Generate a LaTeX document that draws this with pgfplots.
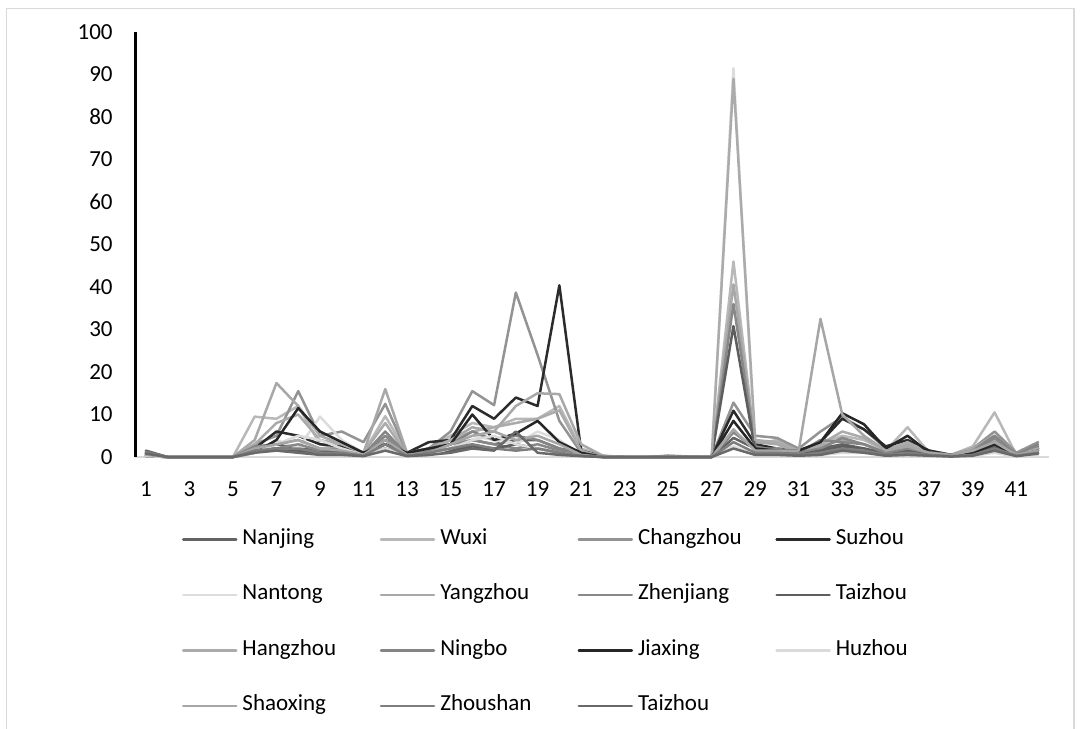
\documentclass[border=0pt]{standalone}
\usepackage{fontspec}
\setmainfont{Carlito}
\usepackage{pgfplots}
\usepackage{pgfplotstable}
\pgfplotsset{compat=1.18}

% Monthly index values for fifteen cities (columns), periods 1..42 (rows)
\pgfplotstableread{
x   NJ  WX   CZ   SZ   NT   YZ   ZJ  TZ   HZ  NB  JX   HU  SX   ZS  TZb
1   1.5 0.5  1    0.3  0.2  0.3  0.8 0.5  0.3 1   0.2  0.2 0.5  1.2 0.8
2   0   0    0    0    0    0    0   0    0   0   0    0   0    0   0
3   0   0    0    0    0    0    0   0    0   0   0    0   0    0   0
4   0   0    0    0    0    0    0   0    0   0   0    0   0    0   0
5   0   0    0    0    0    0    0   0    0   0   0    0   0    0   0
6   2   9.5  3    2    1    4    2   1.5  3   2.5 1    1   2    1.5 1
7   3   9    5    6    4    17.4 2   2    8   3   4    3   3    2   1.5
8   2   12   15.5 5    2    12   3   1.5  10  4   11.5 5   4    2   1
9   1.5 3    5    3    9.5  5    1.5 1    4   2   6    4   2    1   0.5
10  2   2    6    2.5  4    3    1   1.5  3   2   3.5  2   1.5  1   0.5
11  0.5 1    3.5  0.5  1    1    0.5 0.3  1   0.5 1    0.5 0.5  0.3 0.2
12  3   9.6  12.5 4    2    16   5   2    8   6   3    2   4    3   1.5
13  0.5 1    1    1    0.5  1    0.5 0.3  0.5 0.5 1    0.3 0.5  0.3 0.2
14  1   2    2    3.5  1    2    1   0.5  1.5 1.5 2    0.5 1    1   0.5
15  2   5    6    4    3    4    3   1.5  4   3   3    2   3    2   1
16  4   8    15.5 12   5    7    4   2.5  6   6   10   4   5    3   2
17  3   7    12.2 9    4    6    3   2    7   4   4    5   6    2   1.5
18  4   9    38.7 14   3    12   2   3    8   5   5.5  3   4    1.5 6
19  4   9    24   12   6    15   3   2    9   4   8.5  2   5    2   1
20  2   12   8.5  40.4 4    14.8 1.5 1    11  2   3.5  1   3    1   0.5
21  1   2    1    1.5  0.5  3    0.5 0.3  1.5 0.5 1    0.3 0.5  0.3 0.2
22  0.2 0.3  0.2  0.2  0    0.3  0   0    0   0   0    0   0    0   0
23  0   0    0    0    0    0    0   0    0   0   0    0   0    0   0
24  0   0    0    0    0    0    0   0    0   0   0    0   0    0   0
25  0.3 0    0.2  0    0    0    0   0    0   0   0    0   0    0   0
26  0.1 0    0    0    0    0    0   0    0   0   0    0   0    0   0
27  0   0    0    0    0    0    0   0    0   0   0    0   0    0   0
28  4.5 46   12.8 10.9 91.5 40.6 36  30.8 89  5.8 8.5  2.5 6.5  3.5 2
29  2   3    5    3    1    3.5  2.5 1.5  4   2   2    0.5 1.5  1   0.5
30  1.5 4    4.5  2    2    3    1.5 1    3.5 2   1.5  0.5 1.5  1   0.5
31  1   1.5  2    1.5  0.5  1    1   0.5  1.5 1   1.5  0.3 1.5  0.5 0.3
32  2   3    6    3.5  1    2.5  2   1.5  3   4   3.5  0.5 32.5 1   0.5
33  3   5    9.4  9    2    4    4.5 2.5  6   3.5 10.3 1   10   2   1.5
34  2   4    6.5  6.5  1.5  3    3   2    4.5 3   7.7  1   5    1.5 1
35  1   1.5  2    2.5  0.5  1    1   0.5  1.5 1   2    0.3 1.5  0.5 0.3
36  2   7    3    4    1    3    2   1.5  3.5 2   5    0.5 2.5  1   0.5
37  1   1    1.5  1.5  0.5  1    1   0.5  1   1   1    0.3 1    0.5 0.3
38  0.5 0.5  0.5  0.5  0.2  0.3  0.5 0.2  0.5 0.5 0.5  0.1 0.5  0.2 0.1
39  1   2.5  2    1    0.5  1.5  1   0.5  2   1.5 1    0.3 1.5  0.5 0.3
40  3   10.5 6    3.5  1.5  4    4.5 2.5  5   5   3    1   3.5  2   1.5
41  0.5 0.5  1    0.5  0.2  0.5  0.5 0.3  0.5 0.5 0.3  0.1 0.5  0.3 0.2
42  2   2.5  3.5  2    1    2    2.5 1.5  2   3   1.5  0.5 1.5  1   0.8
}\data

% Grey series colours
\definecolor{cNJ}{HTML}{636363}
\definecolor{cWX}{HTML}{B8B8B8}
\definecolor{cCZ}{HTML}{939393}
\definecolor{cSZ}{HTML}{2B2B2B}
\definecolor{cNT}{HTML}{DCDCDC}
\definecolor{cYZ}{HTML}{A8A8A8}
\definecolor{cZJ}{HTML}{888888}
\definecolor{cTZ}{HTML}{5E5E5E}
\definecolor{cHZ}{HTML}{ABABAB}
\definecolor{cNB}{HTML}{858585}
\definecolor{cJX}{HTML}{262626}
\definecolor{cHU}{HTML}{DADADA}
\definecolor{cSX}{HTML}{A6A6A6}
\definecolor{cZS}{HTML}{7E7E7E}
\definecolor{cTZb}{HTML}{696969}
\definecolor{frame}{HTML}{D9D9D9}

\newcommand{\entry}[1]{\makebox[68.65pt][l]{#1}}

\begin{document}
\begin{tikzpicture}
\path[use as bounding box] (0pt,0pt) rectangle (541.5pt,-364.5pt);
% chart area outline
\draw[frame, line width=0.75pt] (3.35pt,-370pt) -- (3.35pt,-4.15pt) -- (537pt,-4.15pt) -- (537pt,-370pt);
\begin{axis}[
  at={(67.5pt,-228.5pt)}, anchor=south west,
  scale only axis, width=457pt, height=212.5pt,
  xmin=0.5, xmax=42.5, ymin=0, ymax=100,
  xtick={1,3,...,41}, ytick={0,10,...,100},
  axis lines*=left,
  x axis line style={frame, line width=0.75pt},
  y axis line style={black, line width=1.5pt},
  major tick length=0pt,
  clip=false,
  /pgf/number format/assume math mode=true,
  tick label style={font=\fontsize{11.5}{13.8}\selectfont, inner sep=0pt},
  xticklabel style={anchor=north, yshift=-12.4pt, text height=7.3pt, text depth=0pt},
  yticklabel style={anchor=east, xshift=-11pt, text height=7.3pt, text depth=0pt},
  every axis plot/.append style={line width=1.25pt, line join=round, line cap=round, mark=none},
  legend columns=4,
  legend cell align=left,
  legend image code/.code={\draw (0pt,-0.3pt) -- (26.5pt,-0.3pt);},
  legend style={
    at={(axis description cs:0.0514,-0.168)}, anchor=north west,
    draw=none, fill=none, inner sep=0pt, outer sep=0pt,
    font=\fontsize{11.5}{13.8}\selectfont,
    row sep=17.25pt,
    nodes={inner sep=0pt, text height=8pt, text depth=2.5pt},
    /tikz/every odd column/.append style={column sep=2.5pt},
    /tikz/every even column/.append style={column sep=0pt},
  },
]
\addplot[cNJ]  table[x=x, y=NJ]  {\data}; \addlegendentry{\entry{Nanjing}}
\addplot[cWX]  table[x=x, y=WX]  {\data}; \addlegendentry{\entry{Wuxi}}
\addplot[cCZ]  table[x=x, y=CZ]  {\data}; \addlegendentry{\entry{Changzhou}}
\addplot[cSZ]  table[x=x, y=SZ]  {\data}; \addlegendentry{\entry{Suzhou}}
\addplot[cNT]  table[x=x, y=NT]  {\data}; \addlegendentry{\entry{Nantong}}
\addplot[cYZ]  table[x=x, y=YZ]  {\data}; \addlegendentry{\entry{Yangzhou}}
\addplot[cZJ]  table[x=x, y=ZJ]  {\data}; \addlegendentry{\entry{Zhenjiang}}
\addplot[cTZ]  table[x=x, y=TZ]  {\data}; \addlegendentry{\entry{Taizhou}}
\addplot[cHZ]  table[x=x, y=HZ]  {\data}; \addlegendentry{\entry{Hangzhou}}
\addplot[cNB]  table[x=x, y=NB]  {\data}; \addlegendentry{\entry{Ningbo}}
\addplot[cJX]  table[x=x, y=JX]  {\data}; \addlegendentry{\entry{Jiaxing}}
\addplot[cHU]  table[x=x, y=HU]  {\data}; \addlegendentry{\entry{Huzhou}}
\addplot[cSX]  table[x=x, y=SX]  {\data}; \addlegendentry{\entry{Shaoxing}}
\addplot[cZS]  table[x=x, y=ZS]  {\data}; \addlegendentry{\entry{Zhoushan}}
\addplot[cTZb] table[x=x, y=TZb] {\data}; \addlegendentry{\entry{Taizhou}}
\end{axis}
\end{tikzpicture}
\end{document}
